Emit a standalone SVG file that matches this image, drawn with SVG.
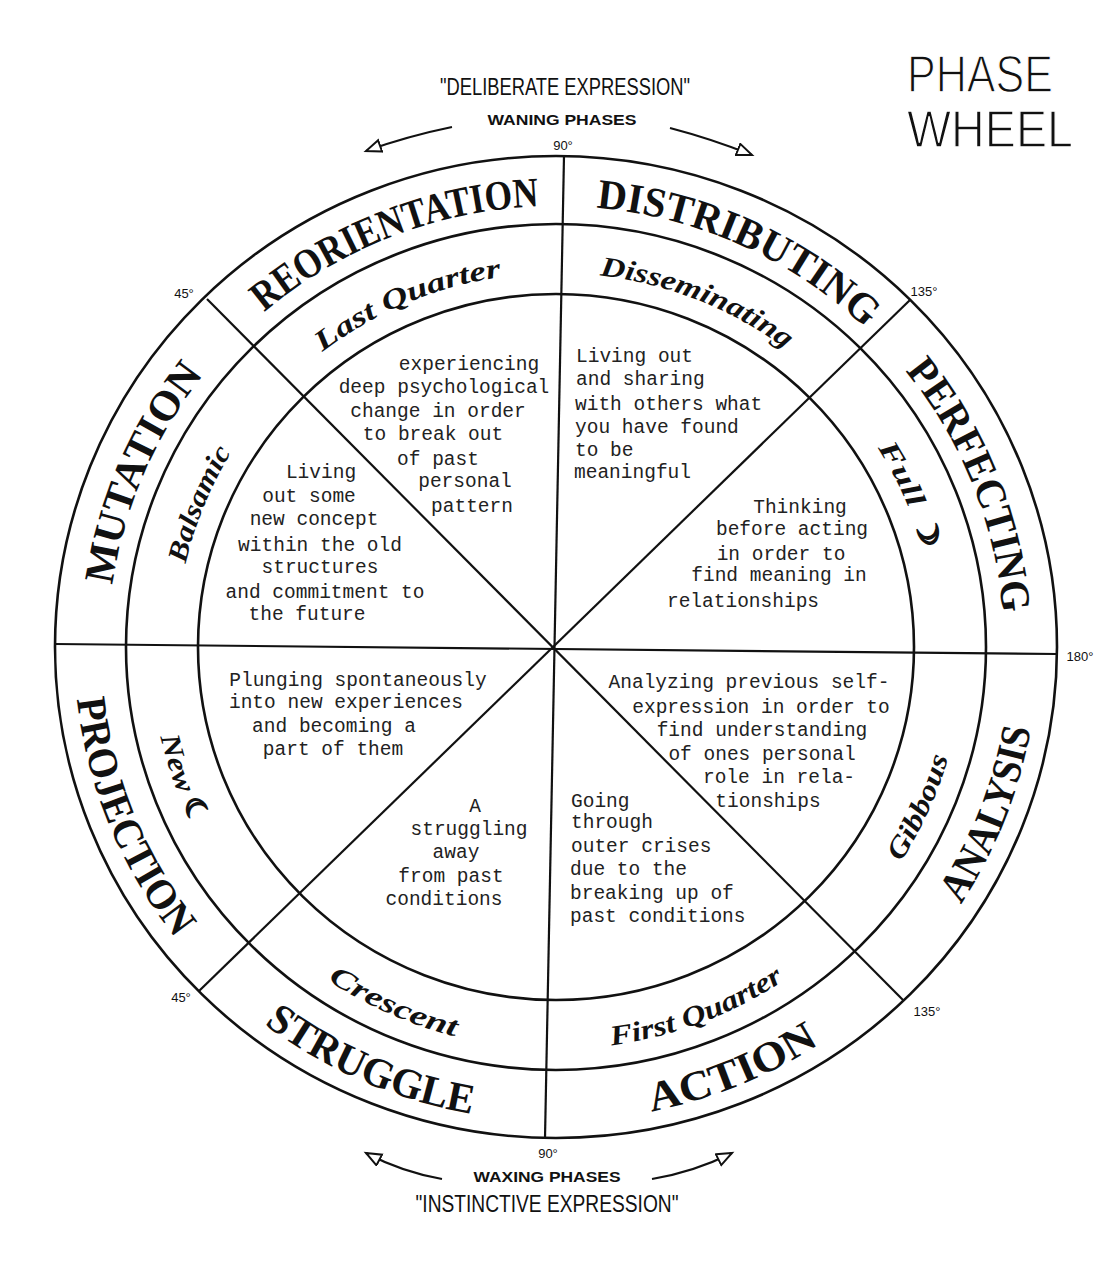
<svg xmlns="http://www.w3.org/2000/svg" width="1117" height="1264" viewBox="0 0 1117 1264">
<style>
.ring{fill:none;stroke:#111;stroke-width:2.6}
.div{stroke:#111;stroke-width:2.2;fill:none}
.arr{stroke:#111;stroke-width:2.2;fill:none;marker-end:url(#tri)}
.big{font-family:"Liberation Serif","DejaVu Serif",serif;font-weight:bold;font-size:42px;fill:#111}
.ph{font-family:"Liberation Serif","DejaVu Serif",serif;font-style:italic;font-weight:bold;font-size:28px;fill:#111}
.sym{font-family:"DejaVu Sans",sans-serif;font-style:normal;font-size:28px;stroke:#111;stroke-width:1.6px}
.mono{font-family:"Liberation Mono","DejaVu Sans Mono",monospace;font-size:19.5px;fill:#222}
.mid{text-anchor:middle}
.hdr{font-family:"Liberation Sans",Arial,sans-serif;font-size:23px;fill:#111;text-anchor:middle}
.sub{font-family:"Liberation Sans",Arial,sans-serif;font-weight:bold;font-size:14px;fill:#111;text-anchor:middle}
.deg{font-family:"Liberation Sans",Arial,sans-serif;font-size:13px;fill:#111;text-anchor:middle}
.title{font-family:"Liberation Sans",Arial,sans-serif;font-size:51px;fill:#111;stroke:#fff;stroke-width:1.4px}
</style>
<defs>
<marker id="tri" markerUnits="userSpaceOnUse" markerWidth="20" markerHeight="16" refX="16" refY="7" orient="auto">
<path d="M1,1 L16,7 L1,13 Z" fill="#fff" stroke="#111" stroke-width="2"/>
</marker>
<path id="p-reor" d="M162.3,436.6 A448,441 0 0 1 698.2,228.8"/>
<path id="p-dist" d="M436.3,222.1 A448,441 0 0 1 960.4,457.1"/>
<path id="p-perf" d="M769.8,259.5 A448,441 0 0 1 980.8,786.9"/>
<path id="p-muta" d="M127.6,775.9 A448,441 0 0 1 352.6,254.1"/>
<path id="p-proj" d="M97.6,500.5 A482,474 0 0 0 329.7,1065.5"/>
<path id="p-stru" d="M123.5,856.3 A482,474 0 0 0 690.5,1102.2"/>
<path id="p-acti" d="M410.2,1098.8 A482,474 0 0 0 983.1,866.6"/>
<path id="p-anal" d="M787.5,1062.7 A482,474 0 0 0 1012.6,495.0"/>
<path id="p-lastq" d="M216.8,478.4 A380,374 0 0 1 665.8,289.0"/>
<path id="p-diss" d="M438.6,291.3 A380,374 0 0 1 891.5,471.4"/>
<path id="p-full" d="M725.6,312.3 A380,374 0 0 1 920.3,753.2"/>
<path id="p-bals" d="M194.6,762.6 A380,374 0 0 1 377.6,316.8"/>
<path id="p-new" d="M174.6,508.8 A405,399 0 0 0 353.5,992.5"/>
<path id="p-cres" d="M188.4,821.3 A408,402 0 0 0 666.4,1034.0"/>
<path id="p-firq" d="M423.2,1027.1 A408,402 0 0 0 912.8,841.9"/>
<path id="p-gibb" d="M734.9,1008.3 A408,402 0 0 0 948.2,536.2"/>
</defs>
<rect width="1117" height="1264" fill="#fff"/>

<g id="title">
<text class="title" x="907" y="92" textLength="146" lengthAdjust="spacingAndGlyphs">PHASE</text>
<text class="title" x="907" y="147" textLength="166" lengthAdjust="spacingAndGlyphs">WHEEL</text>
</g>

<g id="header-top">
<text class="hdr" x="565" y="95" textLength="250" lengthAdjust="spacingAndGlyphs">"DELIBERATE EXPRESSION"</text>
<text class="sub" x="562" y="125" textLength="149" lengthAdjust="spacingAndGlyphs">WANING PHASES</text>
<text class="deg" x="563" y="150">90°</text>
</g>
<g id="header-bottom">
<text class="deg" x="548" y="1158">90°</text>
<text class="sub" x="547" y="1182" textLength="147" lengthAdjust="spacingAndGlyphs">WAXING PHASES</text>
<text class="hdr" x="547" y="1212" textLength="263" lengthAdjust="spacingAndGlyphs">"INSTINCTIVE EXPRESSION"</text>
</g>

<g id="degrees">
<text class="deg" x="184" y="298">45°</text>
<text class="deg" x="924" y="296">135°</text>
<text class="deg" x="1080" y="661">180°</text>
<text class="deg" x="927" y="1016">135°</text>
<text class="deg" x="181" y="1002">45°</text>
</g>

<g id="connectors">
<path class="arr" d="M452,127 Q408,136 366,151"/>
<path class="arr" d="M670,128 Q712,139 752,155"/>
<path class="arr" d="M442,1179 Q402,1172 366,1153"/>
<path class="arr" d="M652,1179 Q694,1172 732,1153"/>
</g>

<g id="wheel">
<ellipse class="ring" cx="556" cy="647" rx="501" ry="491"/>
<ellipse class="ring" cx="556" cy="647" rx="430" ry="423"/>
<ellipse class="ring" cx="556" cy="647" rx="358" ry="353"/>
<line class="div" x1="564" y1="156" x2="545" y2="1138"/>
<line class="div" x1="55" y1="644" x2="1057" y2="654"/>
<line class="div" x1="207" y1="299" x2="903" y2="1000"/>
<line class="div" x1="910" y1="300" x2="199" y2="991"/>
</g>

<g id="outer-labels">
<text class="big"><textPath href="#p-reor" startOffset="50%" text-anchor="middle" textLength="300" lengthAdjust="spacingAndGlyphs">REORIENTATION</textPath></text>
<text class="big"><textPath href="#p-dist" startOffset="50%" text-anchor="middle" textLength="300" lengthAdjust="spacingAndGlyphs">DISTRIBUTING</textPath></text>
<text class="big"><textPath href="#p-perf" startOffset="50%" text-anchor="middle" textLength="265" lengthAdjust="spacingAndGlyphs">PERFECTING</textPath></text>
<text class="big"><textPath href="#p-muta" startOffset="50%" text-anchor="middle" textLength="232" lengthAdjust="spacingAndGlyphs">MUTATION</textPath></text>
<text class="big"><textPath href="#p-proj" startOffset="50%" text-anchor="middle" textLength="262" lengthAdjust="spacingAndGlyphs">PROJECTION</textPath></text>
<text class="big"><textPath href="#p-stru" startOffset="50%" text-anchor="middle" textLength="228" lengthAdjust="spacingAndGlyphs">STRUGGLE</textPath></text>
<text class="big"><textPath href="#p-acti" startOffset="50%" text-anchor="middle" textLength="182" lengthAdjust="spacingAndGlyphs">ACTION</textPath></text>
<text class="big"><textPath href="#p-anal" startOffset="50%" text-anchor="middle" textLength="190" lengthAdjust="spacingAndGlyphs">ANALYSIS</textPath></text>
</g>

<g id="phase-labels">
<text class="ph"><textPath href="#p-lastq" startOffset="50%" text-anchor="middle" textLength="196" lengthAdjust="spacingAndGlyphs">Last Quarter</textPath></text>
<text class="ph"><textPath href="#p-diss" startOffset="50%" text-anchor="middle" textLength="202" lengthAdjust="spacingAndGlyphs">Disseminating</textPath></text>
<text class="ph"><textPath href="#p-full" startOffset="50%" text-anchor="middle" textLength="112" lengthAdjust="spacingAndGlyphs">Full <tspan class="sym">☽</tspan></textPath></text>
<text class="ph"><textPath href="#p-bals" startOffset="50%" text-anchor="middle" textLength="121" lengthAdjust="spacingAndGlyphs">Balsamic</textPath></text>
<text class="ph"><textPath href="#p-new" startOffset="50%" text-anchor="middle" textLength="98" lengthAdjust="spacingAndGlyphs">New <tspan class="sym">☾</tspan></textPath></text>
<text class="ph"><textPath href="#p-cres" startOffset="50%" text-anchor="middle" textLength="140" lengthAdjust="spacingAndGlyphs">Crescent</textPath></text>
<text class="ph"><textPath href="#p-firq" startOffset="50%" text-anchor="middle" textLength="186" lengthAdjust="spacingAndGlyphs">First Quarter</textPath></text>
<text class="ph"><textPath href="#p-gibb" startOffset="50%" text-anchor="middle" textLength="115" lengthAdjust="spacingAndGlyphs">Gibbous</textPath></text>
</g>

<g id="text-last-quarter" class="mono mid">
<text x="469" y="370">experiencing</text>
<text x="444" y="393">deep psychological</text>
<text x="438" y="417">change in order</text>
<text x="433" y="440">to break out</text>
<text x="438" y="465">of past</text>
<text x="465" y="487">personal</text>
<text x="472" y="512">pattern</text>
</g>
<g id="text-balsamic" class="mono mid">
<text x="321" y="478">Living</text>
<text x="309" y="502">out some</text>
<text x="314" y="525">new concept</text>
<text x="320" y="551">within the old</text>
<text x="320" y="573">structures</text>
<text x="325" y="598">and commitment to</text>
<text x="307" y="620">the future</text>
</g>
<g id="text-disseminating" class="mono">
<text x="576" y="362">Living out</text>
<text x="576" y="385">and sharing</text>
<text x="575" y="410">with others what</text>
<text x="575" y="433">you have found</text>
<text x="575" y="456">to be</text>
<text x="574" y="478">meaningful</text>
</g>
<g id="text-full" class="mono mid">
<text x="800" y="513">Thinking</text>
<text x="792" y="535">before acting</text>
<text x="781" y="560">in order to</text>
<text x="779" y="581">find meaning in</text>
<text x="743" y="607">relationships</text>
</g>
<g id="text-gibbous" class="mono mid">
<text x="749" y="688">Analyzing previous self-</text>
<text x="761" y="713">expression in order to</text>
<text x="762" y="736">find understanding</text>
<text x="762" y="760">of ones personal</text>
<text x="779" y="783">role in rela-</text>
<text x="768" y="807">tionships</text>
</g>
<g id="text-first-quarter" class="mono">
<text x="571" y="807">Going</text>
<text x="571" y="828">through</text>
<text x="571" y="852">outer crises</text>
<text x="570" y="875">due to the</text>
<text x="570" y="899">breaking up of</text>
<text x="570" y="922">past conditions</text>
</g>
<g id="text-new" class="mono mid">
<text x="358" y="686">Plunging spontaneously</text>
<text x="346" y="708">into new experiences</text>
<text x="334" y="732">and becoming a</text>
<text x="333" y="755">part of them</text>
</g>
<g id="text-crescent" class="mono mid">
<text x="475" y="812">A</text>
<text x="469" y="835">struggling</text>
<text x="456" y="858">away</text>
<text x="451" y="882">from past</text>
<text x="444" y="905">conditions</text>
</g>
</svg>
